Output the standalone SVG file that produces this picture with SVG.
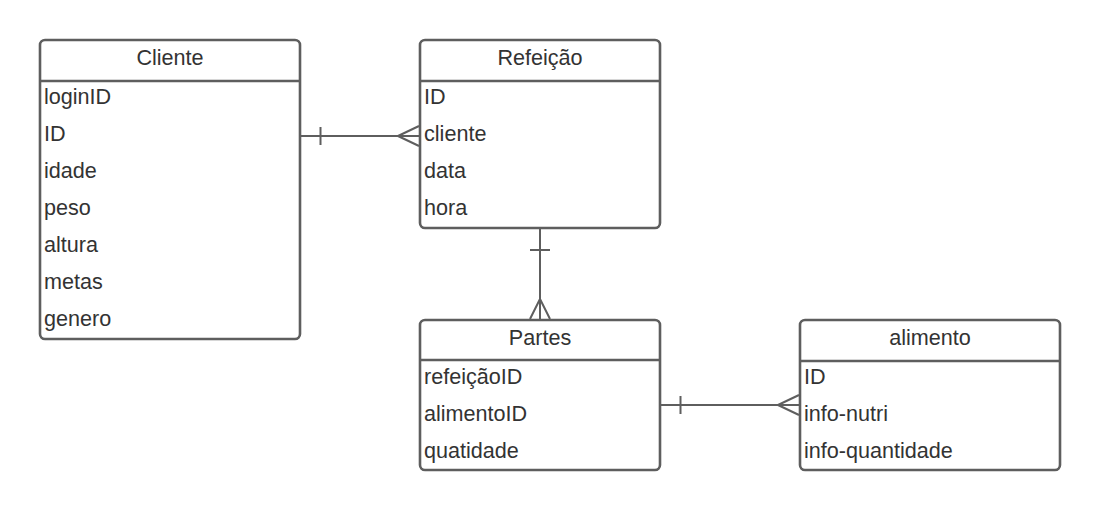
<svg xmlns="http://www.w3.org/2000/svg" width="1100" height="511" viewBox="0 0 1100 511">
<style>
.box{fill:#ffffff;stroke:#5e5e5e;stroke-width:2.6}
.div{stroke:#5e5e5e;stroke-width:2.6}
.t{font-family:"Liberation Sans",Arial,sans-serif;font-size:21.6px;fill:#333333}
.h{text-anchor:middle}
.c{fill:none;stroke:#5e5e5e;stroke-width:2}
</style>
<rect width="1100" height="511" fill="#ffffff"/>
<g id="cliente">
<rect class="box" x="40" y="40" width="260" height="299" rx="5"/>
<line class="div" x1="40" y1="81" x2="300" y2="81"/>
<text class="t h" x="170" y="64.5">Cliente</text>
<text class="t" x="44" y="104">loginID</text>
<text class="t" x="44" y="141">ID</text>
<text class="t" x="44" y="178">idade</text>
<text class="t" x="44" y="215">peso</text>
<text class="t" x="44" y="252">altura</text>
<text class="t" x="44" y="289">metas</text>
<text class="t" x="44" y="326">genero</text>
</g>
<g id="refeicao">
<rect class="box" x="420" y="40" width="240" height="188" rx="5"/>
<line class="div" x1="420" y1="81" x2="660" y2="81"/>
<text class="t h" x="540" y="64.5">Refeição</text>
<text class="t" x="424" y="104">ID</text>
<text class="t" x="424" y="141">cliente</text>
<text class="t" x="424" y="178">data</text>
<text class="t" x="424" y="215">hora</text>
</g>
<g id="partes">
<rect class="box" x="420" y="320" width="240" height="150" rx="5"/>
<line class="div" x1="420" y1="360" x2="660" y2="360"/>
<text class="t h" x="540" y="344.5">Partes</text>
<text class="t" x="424" y="384">refeiçãoID</text>
<text class="t" x="424" y="421">alimentoID</text>
<text class="t" x="424" y="458">quatidade</text>
</g>
<g id="alimento">
<rect class="box" x="800" y="320" width="260" height="150" rx="5"/>
<line class="div" x1="800" y1="361" x2="1060" y2="361"/>
<text class="t h" x="930" y="344.5">alimento</text>
<text class="t" x="804" y="384">ID</text>
<text class="t" x="804" y="421">info-nutri</text>
<text class="t" x="804" y="458">info-quantidade</text>
</g>
<g id="connectors">
<path class="c" d="M301 136 H419 M320.5 127 V145 M398 136 L419 126 M398 136 L419 146"/>
<path class="c" d="M540 229 V319 M530 250 H550 M540 299 L530 319 M540 299 L550 319"/>
<path class="c" d="M661 405 H799 M680.5 396 V414 M778 405 L799 395 M778 405 L799 415"/>
</g>
</svg>
